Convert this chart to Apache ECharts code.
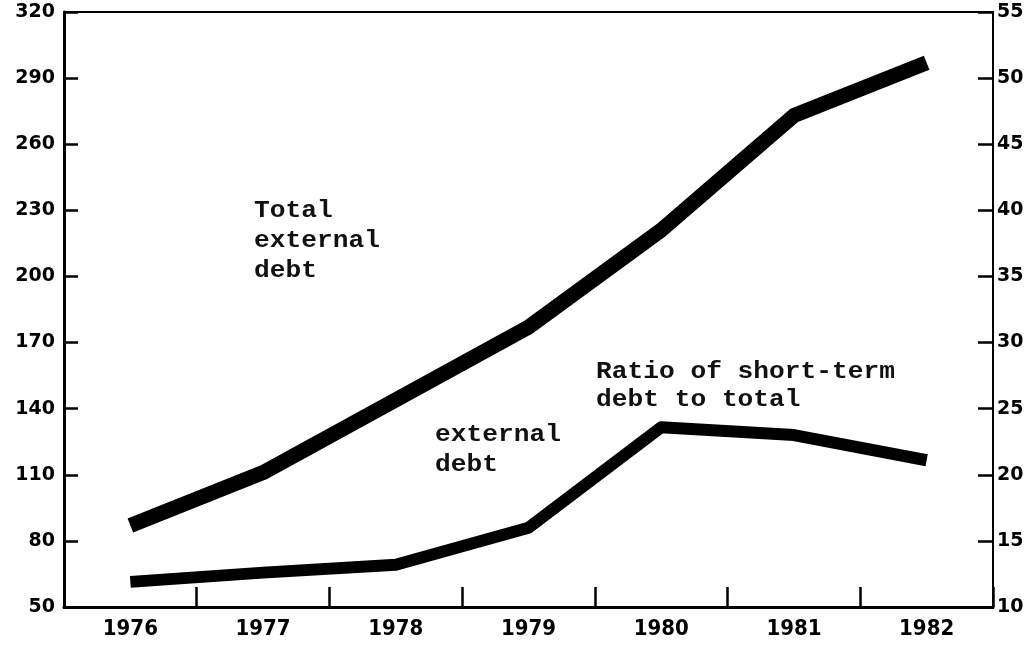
<!DOCTYPE html>
<html>
<head>
<meta charset="utf-8">
<script src="https://cdn.jsdelivr.net/npm/echarts@6/dist/echarts.min.js"></script>
<style>
  html, body { margin: 0; padding: 0; background: #fff; }
  #chart { width: 1034px; height: 655px; }
</style>
</head>
<body>
<div id="chart"></div>
<script>
// ---- data ----
const years = ['1976', '1977', '1978', '1979', '1980', '1981', '1982'];
const totalExternalDebt = [87, 111, 144, 177, 221, 273, 297];      // left axis
const shortTermRatio = [11.9, 12.6, 13.2, 16.0, 23.6, 23.0, 21.1];  // right axis (%)
const leftAxisRange = [50, 320, 30];
const rightAxisRange = [10, 55, 5];
const labelTotal = ['Total', 'external', 'debt'];
const labelRatio = ['Ratio of short-term', 'debt to total'];
const labelRatio2 = ['external', 'debt'];

// ---- chart ----
const chart = echarts.init(document.getElementById('chart'), null, { renderer: 'canvas' });

const monoFont = '"Liberation Mono", "DejaVu Sans Mono", monospace';
function textBlock(lines, x, y0, step) {
  return lines.map((t, i) => ({
    type: 'text',
    x: x,
    y: y0 + i * step,
    scaleX: 1.14,
    style: {
      text: t,
      x: 0, y: 0,
      fill: '#111',
      font: 'bold 23px ' + monoFont,
      verticalAlign: 'middle',
      align: 'left'
    }
  }));
}

const option = {
  backgroundColor: '#ffffff',
  animation: false,
  grid: {
    left: 64, right: 41, top: 12, bottom: 48,
    show: true, borderColor: '#000', borderWidth: 2
  },
  xAxis: {
    type: 'category',
    data: years,
    boundaryGap: true,
    axisLine: { show: true, lineStyle: { color: '#000', width: 3 } },
    axisTick: { show: true, inside: true, length: 20, lineStyle: { color: '#000', width: 2.5 } },
    axisLabel: {
      color: '#000', fontWeight: 'bold', fontSize: 22, margin: 11,
      fontFamily: '"Liberation Sans Narrow", "DejaVu Sans Condensed", sans-serif'
    },
    splitLine: { show: false }
  },
  yAxis: [
    {
      type: 'value',
      position: 'left',
      min: leftAxisRange[0], max: leftAxisRange[1], interval: leftAxisRange[2],
      axisLine: { show: true, lineStyle: { color: '#000', width: 3 } },
      axisTick: { show: true, inside: true, length: 14, lineStyle: { color: '#000', width: 2.5 } },
      axisLabel: {
        color: '#000', fontWeight: 'bold', fontSize: 19, margin: 9,
        fontFamily: '"DejaVu Sans", sans-serif'
      },
      splitLine: { show: false }
    },
    {
      type: 'value',
      position: 'right',
      min: rightAxisRange[0], max: rightAxisRange[1], interval: rightAxisRange[2],
      axisLine: { show: true, lineStyle: { color: '#000', width: 2 } },
      axisTick: { show: true, inside: true, length: 15, lineStyle: { color: '#000', width: 2.5 } },
      axisLabel: {
        color: '#000', fontWeight: 'bold', fontSize: 19, margin: 4,
        fontFamily: '"DejaVu Sans", sans-serif'
      },
      splitLine: { show: false }
    }
  ],
  series: [
    {
      name: 'Total external debt',
      type: 'line',
      yAxisIndex: 0,
      data: totalExternalDebt,
      symbol: 'none',
      lineStyle: { color: '#000', width: 15, cap: 'butt', join: 'round' }
    },
    {
      name: 'Ratio of short-term debt to total external debt',
      type: 'line',
      yAxisIndex: 1,
      data: shortTermRatio,
      symbol: 'none',
      lineStyle: { color: '#000', width: 12, cap: 'butt', join: 'round' }
    }
  ],
  graphic: [].concat(
    textBlock(labelTotal, 254, 211, 30),
    textBlock(labelRatio, 596, 372, 28),
    textBlock(labelRatio2, 435, 435, 30)
  )
};

chart.setOption(option);
</script>
</body>
</html>
